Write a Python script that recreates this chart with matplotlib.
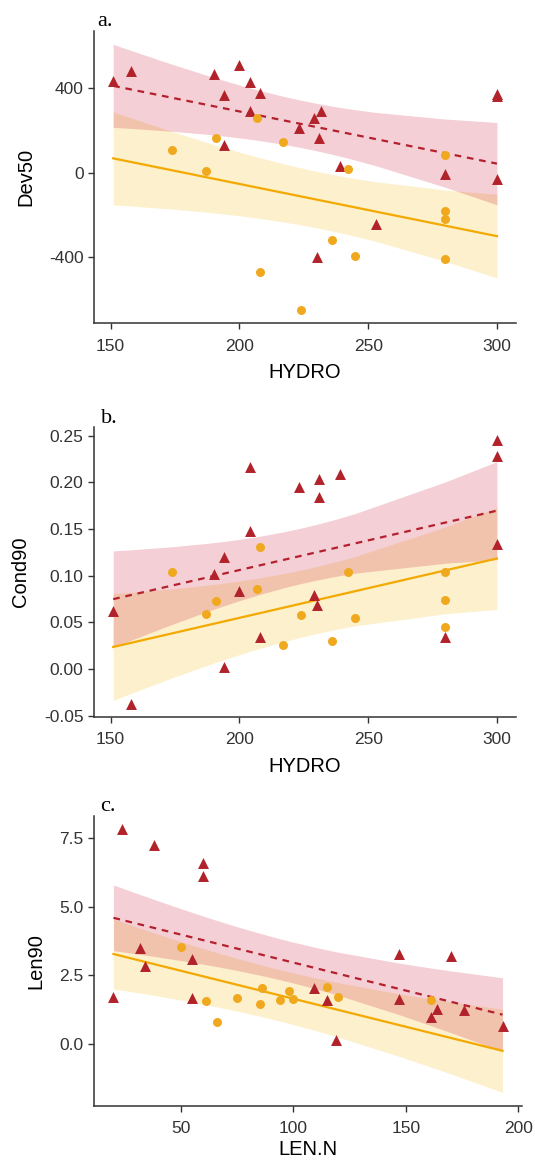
import numpy as np
import matplotlib
matplotlib.use("Agg")
import matplotlib.pyplot as plt

plt.rcParams["font.family"] = ["Liberation Sans", "DejaVu Sans"]
plt.rcParams["axes.unicode_minus"] = False

# panel a: Dev50 vs HYDRO
a_red_x = [151, 158, 190, 200, 204, 194, 208, 204, 194, 223, 229, 231.5, 231, 239, 230, 253, 280, 300, 300, 300]
a_red_y = [433, 480, 466, 508, 427, 364, 377, 292, 130, 210, 255, 289, 164, 33, -398, -242, -5, 370, 362, -30]
a_yel_x = [207, 191, 217, 174, 187, 208, 224, 242, 280, 280, 280, 280, 236, 245]
a_yel_y = [256, 161, 144, 106, 8, -467, -648, 19, 81, -180, -219, -408, -320, -395]

# panel b: Cond90 vs HYDRO
b_red_x = [151, 158, 194, 190, 204, 204, 200, 208, 194, 223, 231, 231, 239, 229, 230, 300, 300, 300, 280]
b_red_y = [0.062, -0.037, 0.120, 0.102, 0.148, 0.216, 0.084, 0.034, 0.002, 0.195,
           0.204, 0.184, 0.209, 0.079, 0.069, 0.245, 0.228, 0.134, 0.034]
b_yel_x = [174, 208, 207, 191, 187, 217, 224, 242, 245, 236, 280, 280, 280]
b_yel_y = [0.104, 0.131, 0.086, 0.073, 0.059, 0.026, 0.058, 0.104, 0.055, 0.030, 0.104, 0.074, 0.045]

# panel c: Len90 vs LEN.N
c_red_x = [24, 38, 60, 60, 32, 34, 20, 55, 55, 109, 115, 119, 147, 147, 170, 161, 164, 176, 193]
c_red_y = [7.84, 7.27, 6.61, 6.14, 3.51, 2.84, 1.70, 3.09, 1.66, 2.05, 1.60, 0.15,
           3.28, 1.65, 3.21, 0.97, 1.28, 1.23, 0.66]
c_yel_x = [50, 61, 66, 75, 85, 86, 94, 98, 100, 115, 120, 161]
c_yel_y = [3.52, 1.57, 0.78, 1.66, 1.46, 2.04, 1.60, 1.91, 1.64, 2.07, 1.70, 1.60]

# 97.5% t quantiles for the residual degrees of freedom
t975 = {28: 2.048, 29: 2.045, 31: 2.040}

RED = "#B2222A"
YEL = "#F0A91E"
RED_FILL = "#C8102E"
YEL_FILL = "#F7B500"


def ancova(rx, ry, yx, yy):
    # common slope, separate intercepts
    x = np.r_[rx, yx].astype(float)
    y = np.r_[ry, yy].astype(float)
    g = np.r_[np.ones(len(rx)), np.zeros(len(yx))]
    X = np.column_stack([np.ones_like(x), g, x])
    beta, *_ = np.linalg.lstsq(X, y, rcond=None)
    res = y - X @ beta
    df = len(y) - 3
    cov = (res @ res / df) * np.linalg.inv(X.T @ X)
    grid = np.unique(x)
    out = {}
    for key, gv in (("red", 1.0), ("yel", 0.0)):
        R = np.column_stack([np.ones_like(grid), np.full_like(grid, gv), grid])
        fit = R @ beta
        se = np.sqrt(np.einsum("ij,jk,ik->i", R, cov, R))
        out[key] = (fit, fit - t975[df] * se, fit + t975[df] * se)
    return grid, out


def panel(ax, rx, ry, yx, yy, xlabel, ylabel, xticks, yticks, yfmt, xpad=7):
    grid, fits = ancova(rx, ry, yx, yy)
    f, lo, hi = fits["yel"]
    ax.fill_between(grid, lo, hi, color=YEL_FILL, alpha=0.2, lw=0)
    f2, lo2, hi2 = fits["red"]
    ax.fill_between(grid, lo2, hi2, color=RED_FILL, alpha=0.2, lw=0)
    ax.plot(grid, f, color="#F2A900", lw=1.6, zorder=3)
    ax.plot(grid, f2, color="#B5202E", lw=1.6, ls=(0, (3, 2.6)), zorder=3)
    ax.scatter(rx, ry, marker="^", s=62, color=RED, lw=0, zorder=4)
    ax.scatter(yx, yy, marker="o", s=42, color=YEL, lw=0, zorder=5)

    ax.set_xticks(xticks)
    ax.set_yticks(yticks)
    ax.set_yticklabels([yfmt.format(v) for v in yticks])
    ax.tick_params(labelsize=12.5, labelcolor="#333333", color="#333333",
                   length=4, width=1.0)
    ax.tick_params(axis="x", pad=7)
    ax.set_xlabel(xlabel, fontsize=14.5, labelpad=xpad)
    ax.set_ylabel(ylabel, fontsize=14.5, labelpad=10)
    for s in ("top", "right"):
        ax.spines[s].set_visible(False)
    for s in ("left", "bottom"):
        ax.spines[s].set_color("#333333")
        ax.spines[s].set_linewidth(1.1)


fig = plt.figure(figsize=(5.35, 11.62), dpi=100)
ax_a = fig.add_axes([0.1757, 0.7218, 0.789, 0.2515])
ax_b = fig.add_axes([0.1757, 0.3832, 0.789, 0.2491])
ax_c = fig.add_axes([0.1757, 0.0485, 0.800, 0.2495])

panel(ax_a, a_red_x, a_red_y, a_yel_x, a_yel_y, "HYDRO", "Dev50",
      [150, 200, 250, 300], [-400, 0, 400], "{:.0f}")
panel(ax_b, b_red_x, b_red_y, b_yel_x, b_yel_y, "HYDRO", "Cond90",
      [150, 200, 250, 300], [-0.05, 0.0, 0.05, 0.10, 0.15, 0.20, 0.25], "{:.2f}")
panel(ax_c, c_red_x, c_red_y, c_yel_x, c_yel_y, "LEN.N", "Len90",
      [50, 100, 150, 200], [0.0, 2.5, 5.0, 7.5], "{:.1f}", xpad=3)

serif = ["Liberation Serif", "DejaVu Serif"]
fig.text(97 / 535, 1 - 26 / 1162, "a.", family=serif, fontsize=16)
fig.text(101 / 535, 1 - 423 / 1162, "b.", family=serif, fontsize=16)
fig.text(100 / 535, 1 - 811 / 1162, "c.", family=serif, fontsize=16)

fig.savefig("out.png", dpi=100)
